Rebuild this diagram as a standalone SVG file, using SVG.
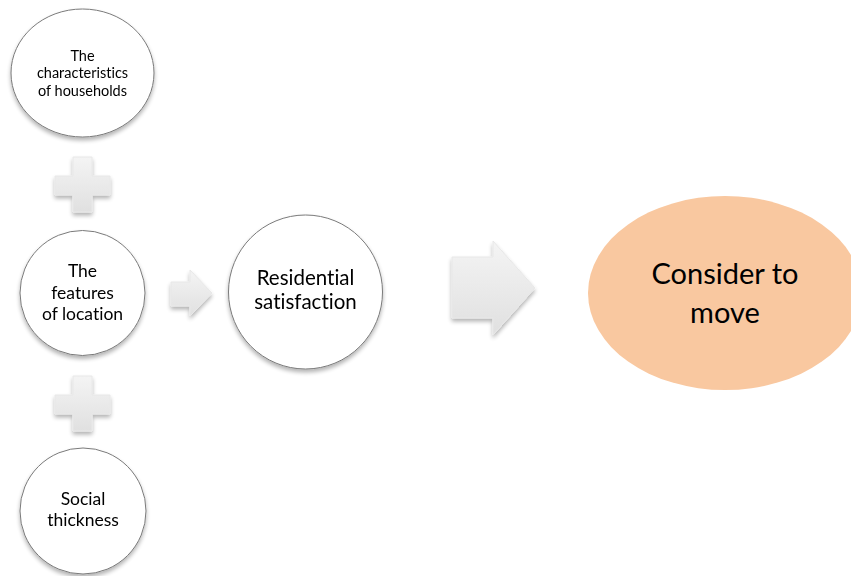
<svg xmlns="http://www.w3.org/2000/svg" width="851" height="576" viewBox="0 0 851 576">
  <defs>
    <filter id="shadow" x="-20%" y="-20%" width="140%" height="150%">
      <feGaussianBlur in="SourceAlpha" stdDeviation="2"/>
      <feOffset dx="0" dy="3" result="b"/>
      <feComponentTransfer><feFuncA type="linear" slope="0.3"/></feComponentTransfer>
      <feMerge><feMergeNode/><feMergeNode in="SourceGraphic"/></feMerge>
    </filter>
    <linearGradient id="grey" x1="0" y1="0" x2="0" y2="1">
      <stop offset="0" stop-color="#f4f4f4"/>
      <stop offset="1" stop-color="#e0e0e0"/>
    </linearGradient>
  </defs>
  <style>
    .node { fill: #ffffff; stroke: #7a7a7a; stroke-width: 1; }
    .sym { fill: url(#grey); stroke: #e8e8e8; stroke-width: 1; }
    text { font-family: "Lato", "Open Sans", "Liberation Sans", sans-serif; fill: #000; text-anchor: middle; font-variant-ligatures: none; }
    .s13 { font-size: 14.5px; }
    .s16 { font-size: 17.5px; }
    .s19 { font-size: 20.5px; }
    .s28 { font-size: 29px; }
  </style>
  <rect width="851" height="576" fill="#ffffff"/>

  <g id="households" filter="url(#shadow)">
    <ellipse class="node" cx="82.5" cy="73" rx="71.5" ry="64"/>
    <text class="s13" x="82.5" y="61">The</text>
    <text class="s13" x="82.5" y="78">characteristics</text>
    <text class="s13" x="82.5" y="96">of households</text>
  </g>

  <g id="location" filter="url(#shadow)">
    <circle class="node" cx="82.5" cy="293" r="62.5"/>
    <text class="s16" x="82.5" y="277">The</text>
    <text class="s16" x="82.5" y="299">features</text>
    <text class="s16" x="82.5" y="320">of location</text>
  </g>

  <g id="social" filter="url(#shadow)">
    <circle class="node" cx="83" cy="511" r="63"/>
    <text class="s16" x="83" y="505">Social</text>
    <text class="s16" x="83" y="526">thickness</text>
  </g>

  <g id="residential" filter="url(#shadow)">
    <circle class="node" cx="305.5" cy="292" r="77"/>
    <text class="s19" x="305.5" y="285">Residential</text>
    <text class="s19" x="305.5" y="309">satisfaction</text>
  </g>

  <g id="move">
    <ellipse cx="725" cy="293" rx="137" ry="97" fill="#f9c8a0"/>
    <text class="s28" x="725" y="284">Consider to</text>
    <text class="s28" x="725" y="323">move</text>
  </g>

  <g id="connectors" filter="url(#shadow)">
    <!-- plus signs between the input circles -->
    <path class="sym" d="M73,157 H92 V176 H110 V195 H92 V212 H73 V195 H55 V176 H73 Z"/>
    <path class="sym" d="M73,376 H92 V395 H110 V414 H92 V431 H73 V414 H55 V395 H73 Z"/>
    <!-- arrows -->
    <path class="sym" d="M171,282 H190 V270 L212,293 L190,316 V306 H171 Z"/>
    <path class="sym" d="M452,257 H493 V241 L535,288 L493,335 V318 H452 Z"/>
  </g>
</svg>
